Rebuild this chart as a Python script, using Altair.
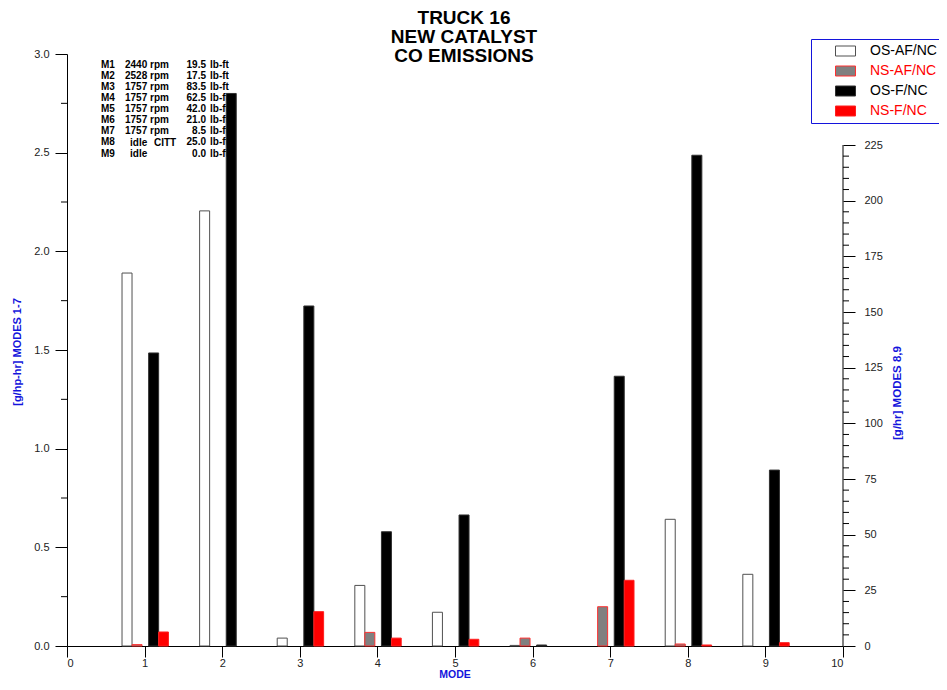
import altair as alt
import pandas as pd

# ---------------- data ----------------
modes = [1, 2, 3, 4, 5, 6, 7, 8, 9]
series_names = ["OS-AF/NC", "NS-AF/NC", "OS-F/NC", "NS-F/NC"]
# modes 1-7 in g/hp-hr (left axis), modes 8-9 in g/hr (right axis)
os_af = [1.89, 2.205, 0.04, 0.307, 0.171, 0.003, 0.0, 56.9, 32.2]
ns_af = [0.007, 0.0, 0.0, 0.069, 0.0, 0.04, 0.199, 0.9, 0.0]
os_f = [1.485, 2.80, 1.723, 0.579, 0.664, 0.005, 1.367, 220.4, 79.0]
ns_f = [0.071, 0.0, 0.174, 0.040, 0.034, 0.0, 0.333, 0.45, 1.5]

left_ticks = [0.0, 0.5, 1.0, 1.5, 2.0, 2.5, 3.0]
left_minor = [0.25, 0.75, 1.25, 1.75, 2.25, 2.75]
right_ticks = [0, 25, 50, 75, 100, 125, 150, 175, 200, 225]
right_minor = [v for v in range(0, 226, 5) if v % 25 != 0]
x_ticks = [0, 1, 2, 3, 4, 5, 6, 7, 8, 9, 10]

note_modes = ["M1", "M2", "M3", "M4", "M5", "M6", "M7", "M8", "M9"]
note_speeds = ["2440 rpm", "2528 rpm", "1757 rpm", "1757 rpm", "1757 rpm",
               "1757 rpm", "1757 rpm"]
note_idle_rows = [8, 9]
note_idle = "idle"
note_citt_row = 8
note_citt = "CITT"
note_torques = ["19.5", "17.5", "83.5", "62.5", "42.0", "21.0", "8.5", "25.0", "0.0"]
note_units = ["lb-ft"] * 9

title_lines = ["TRUCK 16", "NEW CATALYST", "CO EMISSIONS"]

# ---------------- styles ----------------
offsets = {"OS-AF/NC": (-0.291, -0.162), "NS-AF/NC": (-0.162, -0.033),
           "OS-F/NC": (0.052, 0.181), "NS-F/NC": (0.181, 0.307)}
fills = ["#ffffff", "#808080", "#000000", "#ff0000"]
strokes = ["#505050", "#ff3030", "#303030", "#ff2020"]
legend_text_colors = ["#000000", "#ff0000", "#000000", "#ff0000"]
BLUE = "#1414dc"
FONT = "Liberation Sans"

W, H = 776, 592
LEFT_MAX = 3.0
RIGHT_MAX = 225 * 592 / (646 - 145)  # right scale top matching the left 3.0

rows = []
for s, vals in zip(series_names, [os_af, ns_af, os_f, ns_f]):
    for m, v in zip(modes, vals):
        rows.append({"mode": m, "series": s, "value": v})
df = pd.DataFrame(rows)
df = df[df["value"] > 0].copy()
df["x0"] = df["mode"] + df["series"].map(lambda s: offsets[s][0])
df["x1"] = df["mode"] + df["series"].map(lambda s: offsets[s][1])
left_df = df[df["mode"] <= 7]
right_df = df[df["mode"] >= 8]

X = alt.X("x0:Q", scale=alt.Scale(domain=[0, 10], nice=False, zero=False),
          axis=alt.Axis(values=x_ticks, format="d", tickSize=11, labelPadding=0,
                        grid=False, title=None, labelFontSize=11))
fill_enc = alt.Fill("series:N", scale=alt.Scale(domain=series_names, range=fills), legend=None)
stroke_enc = alt.Stroke("series:N", scale=alt.Scale(domain=series_names, range=strokes), legend=None)

YL = alt.Y("value:Q", scale=alt.Scale(domain=[0, LEFT_MAX], nice=False, zero=True),
           axis=alt.Axis(values=left_ticks, format=".1f", tickSize=12, labelPadding=6,
                         grid=False, title=None, orient="left", labelFontSize=11))
YR = alt.Y("value:Q", scale=alt.Scale(domain=[0, RIGHT_MAX], nice=False, zero=True),
           axis=alt.Axis(values=right_ticks, format="d", tickSize=12, labelPadding=9,
                         grid=False, title=None, orient="right", domain=False,
                         labelFontSize=11))

bars_left = alt.Chart(left_df).mark_bar(strokeWidth=1).encode(
    x=X, x2="x1:Q", y=YL, y2=alt.Y2(datum=0), fill=fill_enc, stroke=stroke_enc)
minor_left = alt.Chart(pd.DataFrame({"value": left_minor})).mark_rule(
    color="black", strokeWidth=1).encode(x=alt.value(-6), x2=alt.value(0), y=YL)
left_group = alt.layer(minor_left, bars_left)

bars_right = alt.Chart(right_df).mark_bar(strokeWidth=1).encode(
    x=X, x2="x1:Q", y=YR, y2=alt.Y2(datum=0), fill=fill_enc, stroke=stroke_enc)
minor_right = alt.Chart(pd.DataFrame({"value": right_minor})).mark_rule(
    color="black", strokeWidth=1).encode(x=alt.value(W), x2=alt.value(W + 6), y=YR)
right_line = alt.Chart(pd.DataFrame({"value": [0], "value2": [225]})).mark_rule(
    color="black", strokeWidth=1).encode(x=alt.value(W), y=YR, y2="value2:Q")
right_group = alt.layer(right_line, minor_right, bars_right)

one = pd.DataFrame({"k": [0]})


def text_block(lines, x, y, align="left", size=10, bold=True, color="black",
               line_height=11.1, baseline="alphabetic", angle=None):
    kw = dict(text=lines, align=align, baseline=baseline, font=FONT, fontSize=size,
              fontWeight="bold" if bold else "normal", color=color,
              lineHeight=line_height)
    if angle is not None:
        kw["angle"] = angle
    return alt.Chart(one).mark_text(**kw).encode(x=alt.value(x), y=alt.value(y))


def rule(x, x2, y, y2, color):
    return alt.Chart(one).mark_rule(color=color, strokeWidth=1).encode(
        x=alt.value(x), x2=alt.value(x2), y=alt.value(y), y2=alt.value(y2))


OX, OY = 67, 54  # page coordinates of the plot origin
NOTE_LH = 11.1
note_y = 67.8 - OY
notes = [
    text_block(note_modes, 101 - OX, note_y),
    text_block(note_speeds, 125 - OX, note_y),
    text_block(note_torques, 206 - OX, note_y, align="right"),
    text_block(note_units, 210 - OX, note_y),
]
for r in note_idle_rows:
    notes.append(text_block([note_idle], 130 - OX, note_y + NOTE_LH * (r - 1)))
notes.append(text_block([note_citt], 154 - OX, note_y + NOTE_LH * (note_citt_row - 1)))

title = text_block(title_lines, 464 - OX, 23.5 - OY, align="center", size=19,
                   line_height=19.2)

ytitle_left = text_block(["[g/hp-hr] MODES 1-7"], 18 - OX, 352 - OY, align="center",
                         size=11, color=BLUE, baseline="middle", angle=270)
ytitle_right = text_block(["[g/hr] MODES 8,9"], 898 - OX, 393 - OY, align="center",
                          size=11.5, color=BLUE, baseline="middle", angle=270)
xtitle = text_block(["MODE"], 455 - OX, 674.5 - OY, align="center", size=10.5,
                    color=BLUE, baseline="middle")

# legend frame: open on the right, it runs off the page as in the reference
LX0, LX1, LY0, LY1 = 811.5 - OX, 950 - OX, 39.5 - OY, 123.5 - OY
legend_box = [
    rule(LX0, LX1, LY0, LY0, BLUE),
    rule(LX0, LX1, LY1, LY1, BLUE),
    rule(LX0, LX0, LY0, LY1, BLUE),
]
legend_items = []
for i, s in enumerate(series_names):
    cy = 51 + 20 * i - OY
    legend_items.append(
        alt.Chart(one).mark_rect(fill=fills[i], stroke=strokes[i], strokeWidth=1).encode(
            x=alt.value(835.5 - OX), x2=alt.value(855.5 - OX),
            y=alt.value(cy - 5), y2=alt.value(cy + 5)))
    legend_items.append(text_block([s], 870 - OX, cy, size=14, bold=False,
                                   color=legend_text_colors[i], baseline="middle"))

chart = alt.layer(
    *notes, left_group, right_group, title, ytitle_left, ytitle_right, xtitle,
    *legend_box, *legend_items
).resolve_scale(y="independent").properties(
    width=W, height=H,
    autosize=alt.AutoSizeParams(type="none"),
    padding={"left": 59, "top": 46, "right": 96, "bottom": 32},
).configure_view(stroke=None).configure_axis(
    labelFont=FONT, labelColor="#222222", domainColor="black", tickColor="black",
    domainWidth=1, tickWidth=1,
)

chart.save("out.html", embed_options={"renderer": "svg", "actions": False})
